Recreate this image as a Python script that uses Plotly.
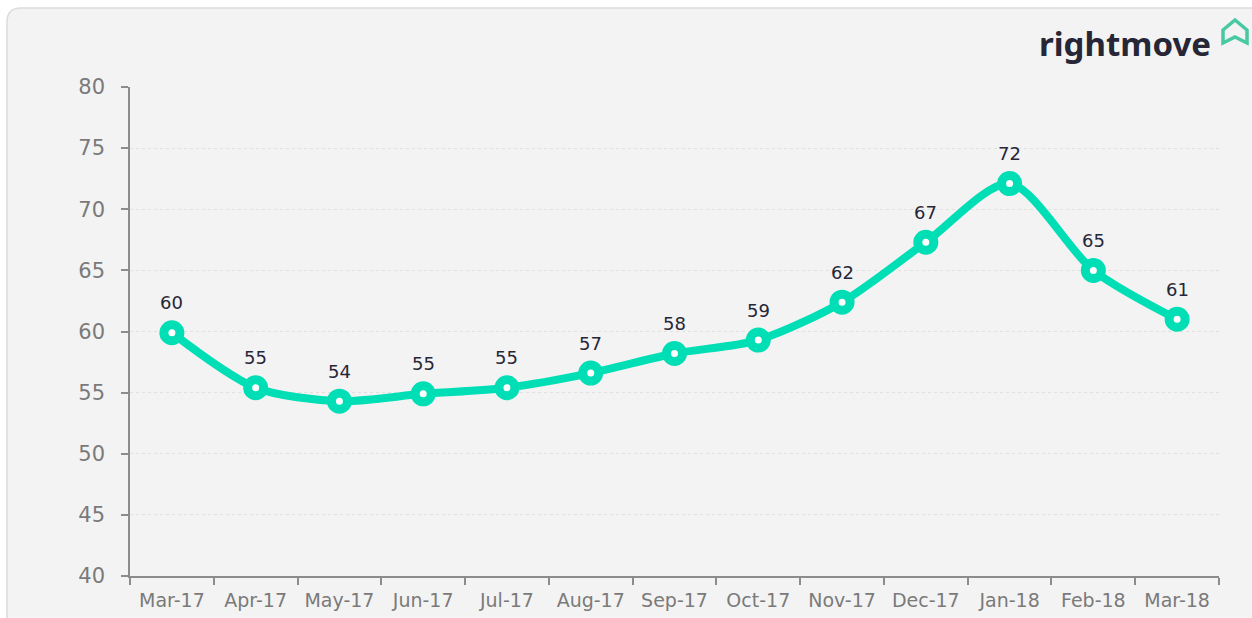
import plotly.graph_objects as go

months = ["Mar-17", "Apr-17", "May-17", "Jun-17", "Jul-17", "Aug-17", "Sep-17",
          "Oct-17", "Nov-17", "Dec-17", "Jan-18", "Feb-18", "Mar-18"]
values = [59.9, 55.4, 54.3, 54.9, 55.4, 56.6, 58.2, 59.3, 62.4, 67.3, 72.1, 65.0, 61.0]
labels = ["60", "55", "54", "55", "55", "57", "58", "59", "62", "67", "72", "65", "61"]
y_ticks = [40, 45, 50, 55, 60, 65, 70, 75, 80]

TEAL = "#00DEB6"
NAVY = "#262637"
GRAY = "#7a7a7a"
FONT = "DejaVu Sans"

W, H = 1252, 618
L, R, T, B = 130, 33, 87, 42
PW, PH = W - L - R, H - T - B


def px(x):
    return (x - L) / PW


def py(y):
    return (H - B - y) / PH


fig = go.Figure()
fig.add_trace(go.Scatter(
    x=months, y=values, mode="lines+markers",
    line=dict(color=TEAL, width=8, shape="spline", smoothing=0.8),
    marker=dict(size=16, color="white", line=dict(color=TEAL, width=9)),
    hoverinfo="skip", showlegend=False,
))

for m, v, lab in zip(months, values, labels):
    fig.add_annotation(x=m, y=v, text=lab, showarrow=False, yshift=30,
                       font=dict(family=FONT, size=18, color=NAVY))

# panel with rounded corners
r = 14
x0, x1, y0, y1 = 7, 1270, 8, 630
path = (f"M {px(x0)},{py(y0 + r)} Q {px(x0)},{py(y0)} {px(x0 + r)},{py(y0)} "
        f"L {px(x1 - r)},{py(y0)} Q {px(x1)},{py(y0)} {px(x1)},{py(y0 + r)} "
        f"L {px(x1)},{py(y1 - r)} Q {px(x1)},{py(y1)} {px(x1 - r)},{py(y1)} "
        f"L {px(x0 + r)},{py(y1)} Q {px(x0)},{py(y1)} {px(x0)},{py(y1 - r)} Z")
fig.add_shape(type="path", path=path, xref="paper", yref="paper", layer="below",
              fillcolor="#f3f3f3", line=dict(color="#dcdcdc", width=1.5))

# logo text
fig.add_annotation(xref="paper", yref="paper", x=px(1213), y=py(44), xanchor="right",
                   yanchor="middle", text="<b>rightmove</b>", showarrow=False,
                   font=dict(family="Noto Sans", size=33, color=NAVY))
# house icon
hp = (f"M {px(1223)},{py(43)} L {px(1223)},{py(30)} L {px(1235)},{py(20)} "
      f"L {px(1247)},{py(30)} L {px(1247)},{py(43)} L {px(1235)},{py(37)} Z")
fig.add_shape(type="path", path=hp, xref="paper", yref="paper",
              line=dict(color="#47c9a2", width=3.5), fillcolor="rgba(0,0,0,0)")

fig.update_layout(
    width=W, height=H,
    margin=dict(l=L, r=R, t=T, b=B, autoexpand=False),
    paper_bgcolor="white", plot_bgcolor="rgba(0,0,0,0)",
    xaxis=dict(type="category", range=[-0.5, 12.5], tickson="boundaries",
               showgrid=False, showline=True, linecolor="#8c8c8c", linewidth=1.5,
               ticks="outside", ticklen=7, tickcolor="#8c8c8c", tickwidth=1.5,
               ticklabelstandoff=6, automargin=False,
               tickfont=dict(family=FONT, size=19, color=GRAY), fixedrange=True),
    yaxis=dict(range=[40, 80], tickvals=y_ticks, showgrid=True,
               gridcolor="#e0e0e0", griddash="dot", gridwidth=1,
               showline=True, linecolor="#8c8c8c", linewidth=1.5,
               ticks="outside", ticklen=7, tickcolor="#8c8c8c", tickwidth=1.5,
               ticklabelstandoff=12, zeroline=False, automargin=False,
               tickfont=dict(family=FONT, size=21, color=GRAY), fixedrange=True),
)

fig.write_html("out.html", config={"displayModeBar": False})
